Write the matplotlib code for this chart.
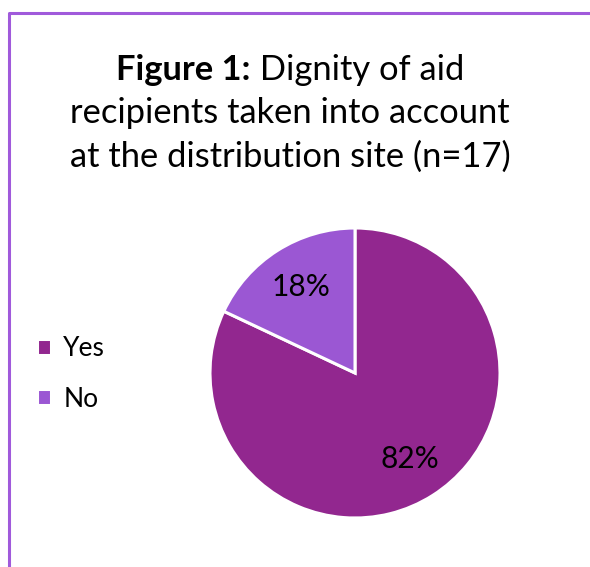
import matplotlib.pyplot as plt
from matplotlib.lines import Line2D

categories = ['Yes', 'No']
shares = [82, 18]
colors = ['#92278F', '#9B57D3']

title_bold = 'Figure 1:'
title_rest = ' Dignity of aid'
title_lines = ['recipients taken into account', 'at the distribution site (n=17)']

plt.rcParams['font.family'] = ['Lato', 'DejaVu Sans']

W, H = 590, 567
fig = plt.figure(figsize=(W / 100, H / 100), dpi=100)

# frame line, left and top edges only
fig.add_artist(Line2D([9 / W, 9 / W, 1], [0, 1 - 12.5 / H, 1 - 12.5 / H],
                      transform=fig.transFigure, color='#A05ADB', lw=2.2))

# pie
cx, cy, r = 355, 373, 145
ax = fig.add_axes([(cx - r) / W, (H - cy - r) / H, 2 * r / W, 2 * r / H])
wedges, _, autotexts = ax.pie(shares, colors=colors, startangle=90, counterclock=False,
                              autopct='%.0f%%', pctdistance=0.7,
                              wedgeprops=dict(edgecolor='white', linewidth=2.2),
                              textprops=dict(fontsize=21.5, color='black'))
ax.set_xlim(-1, 1)
ax.set_ylim(-1, 1)
ax.set_aspect('equal')
ax.axis('off')

fig.legend(wedges, categories, loc='center left', bbox_to_anchor=(13 / W, 1 - 374 / H),
           frameon=False, fontsize=19, handlelength=0.55, handleheight=0.55,
           handletextpad=0.45, labelspacing=0.95)

# title, first line mixes bold and regular
fs = 24.8
renderer = fig.canvas.get_renderer()
t1 = fig.text(0, 1 - 70 / H, title_bold, fontsize=fs, fontweight='bold', va='center')
t2 = fig.text(0, 1 - 70 / H, title_rest, fontsize=fs, va='center')
w1 = t1.get_window_extent(renderer).width
w2 = t2.get_window_extent(renderer).width
x0 = 290 - (w1 + w2) / 2
t1.set_x(x0 / W)
t2.set_x((x0 + w1) / W)
for i, line in enumerate(title_lines):
    fig.text(290 / W, 1 - (113 + 44 * i) / H, line, fontsize=fs, ha='center', va='center')

fig.savefig('out.png', dpi=100)
